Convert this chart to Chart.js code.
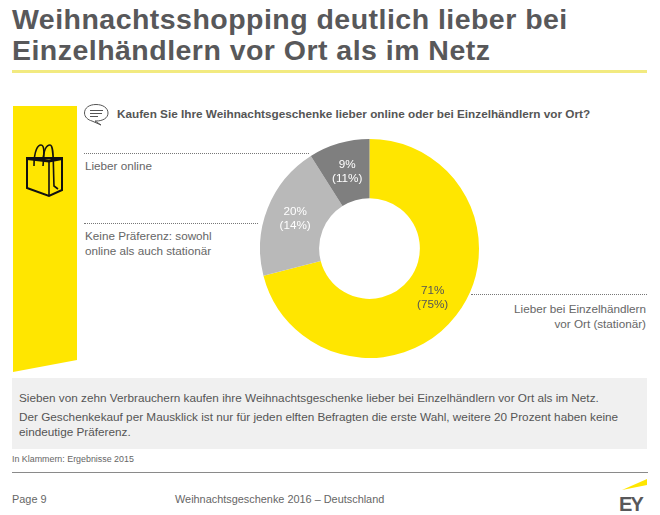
<!DOCTYPE html>
<html lang="de">
<head>
<meta charset="utf-8">
<title>Weihnachtsshopping</title>
<script src="https://cdn.jsdelivr.net/npm/chart.js@4"></script>
<style>
html, body { margin: 0; padding: 0; background: #fff; }
body { width: 660px; height: 515px; position: relative; overflow: hidden; font-family: "Liberation Sans", Arial, sans-serif; color: #666; }
.t { position: absolute; white-space: nowrap; font-size: 11.7px; line-height: 15px; }
.dots { position: absolute; height: 0; border-top: 1px dotted #777; }
#title { left: 12px; top: 4px; font-size: 28.5px; line-height: 31px; font-weight: bold; color: #58585a; letter-spacing: 0.47px; }
#titleRule { position: absolute; left: 12px; top: 70px; width: 635px; height: 3px; background: #f2ea80; }
#question { left: 117px; top: 106px; font-weight: bold; font-size: 11.75px; color: #555; }
#box { position: absolute; left: 12px; top: 378px; width: 635px; height: 71px; background: #f0f0f0; }
#footRule { position: absolute; left: 12px; top: 472px; width: 636px; height: 1px; background: #8a8a8a; }
#chartWrap { position: absolute; left: 260px; top: 139px; width: 219px; height: 219px; }
svg { position: absolute; left: 0; top: 0; }
</style>
</head>
<body>
<svg width="660" height="515">
  <polygon points="13,106 77,106 77,360 13,372" fill="#ffe600"/>
  <g fill="none" stroke="#111" stroke-width="1.6">
    <path d="M27,158 L62,158 L62,190 L49,196 L27,188 Z" stroke-width="2"/>
    <path d="M27,158.500 L49,161 L62,158.500" stroke-width="3"/>
    <path d="M49,161 L49,196"/>
    <path d="M34,166 C34,150 38,145 41,145 C45,145 44,155 43,166"/>
    <path d="M43,160 C44,148 47,145 50,145 C54,145 53,160 54,186 L58,189"/>
  </g>
  <g fill="none" stroke="#555" stroke-width="1">
    <path d="M96,104.500 C103,104.500 108,108 108,113 C108,118 103,121 96,121 L95,121 L101,125 L92,121 C88,120 84.500,117 84.500,113 C84.500,108 89,104.500 96,104.500 Z"/>
    <path d="M90,110.500 H103 M90,113.500 H102 M90,116.500 H98"/>
  </g>
  <polygon points="622,490 647,479 647,485" fill="#ffe600"/>
</svg>

<div class="t" id="title">Weihnachtsshopping deutlich lieber bei<br>Einzelhändlern vor Ort als im Netz</div>
<div id="titleRule"></div>
<div class="t" id="question">Kaufen Sie Ihre Weihnachtsgeschenke lieber online oder bei Einzelhändlern vor Ort?</div>

<div class="dots" style="left:84px;top:153px;width:225px"></div>
<div class="t" style="left:85px;top:158px">Lieber online</div>
<div class="dots" style="left:84px;top:223px;width:174px"></div>
<div class="t" style="left:85px;top:228px">Keine Präferenz: sowohl<br>online als auch stationär</div>
<div class="dots" style="left:471px;top:294px;width:176px"></div>
<div class="t" style="right:14px;top:302px;text-align:right;line-height:14.500px">Lieber bei Einzelhändlern<br>vor Ort (stationär)</div>

<div id="chartWrap"><canvas id="donut" width="219" height="219"></canvas></div>

<div id="box"></div>
<div class="t" style="left:19px;top:390px;color:#555;font-size:11.750px">Sieben von zehn Verbrauchern kaufen ihre Weihnachtsgeschenke lieber bei Einzelhändlern vor Ort als im Netz.</div>
<div class="t" style="left:19px;top:410px;color:#555;font-size:11.750px;line-height:14.500px">Der Geschenkekauf per Mausklick ist nur für jeden elften Befragten die erste Wahl, weitere 20 Prozent haben keine<br>eindeutige Präferenz.</div>
<div class="t" style="left:12px;top:453px;font-size:8.900px;line-height:12px">In Klammern: Ergebnisse 2015</div>
<div id="footRule"></div>
<div class="t" style="left:12px;top:492px;font-size:10.900px">Page 9</div>
<div class="t" style="left:175px;top:492px;font-size:10.900px">Weihnachtsgeschenke 2016 – Deutschland</div>
<div class="t" style="left:619px;top:493px;font-size:20px;line-height:22px;font-weight:bold;color:#58585a;letter-spacing:-1.800px">EY</div>

<script>
'use strict';

let categories = ['Lieber bei Einzelhändlern vor Ort (stationär)', 'Keine Präferenz: sowohl online als auch stationär', 'Lieber online'];
let values2016 = [71, 20, 9];
let values2015 = [75, 14, 11];
let sliceColors = ['#ffe600', '#b9b9b9', '#7f7f7f'];
let textColors = ['#555555', '#ffffff', '#ffffff'];

// writes the two line percent label in the middle of each slice
let sliceLabels = {
    id: 'sliceLabels',
    afterDatasetsDraw(chart) {
        let ctx = chart.ctx;
        let arcs = chart.getDatasetMeta(0).data;
        ctx.save();
        ctx.font = '11.7px "Liberation Sans", Arial, sans-serif';
        ctx.textAlign = 'center';
        ctx.textBaseline = 'middle';
        for (let i = 0; i < arcs.length; i++) {
            let pos = arcs[i].tooltipPosition();
            ctx.fillStyle = textColors[i];
            ctx.fillText(`${values2016[i]}%`, pos.x, pos.y - 7);
            ctx.fillText(`(${values2015[i]}%)`, pos.x, pos.y + 7);
        }
        ctx.restore();
    }
};

new Chart(document.getElementById('donut').getContext('2d'), {
    type: 'doughnut',
    data: {
        labels: categories,
        datasets: [{
            data: values2016,
            backgroundColor: sliceColors,
            borderWidth: 0
        }]
    },
    options: {
        responsive: false,
        animation: false,
        cutout: '46%',
        plugins: {
            legend: { display: false },
            tooltip: { enabled: false }
        }
    },
    plugins: [sliceLabels]
});
</script>
</body>
</html>
